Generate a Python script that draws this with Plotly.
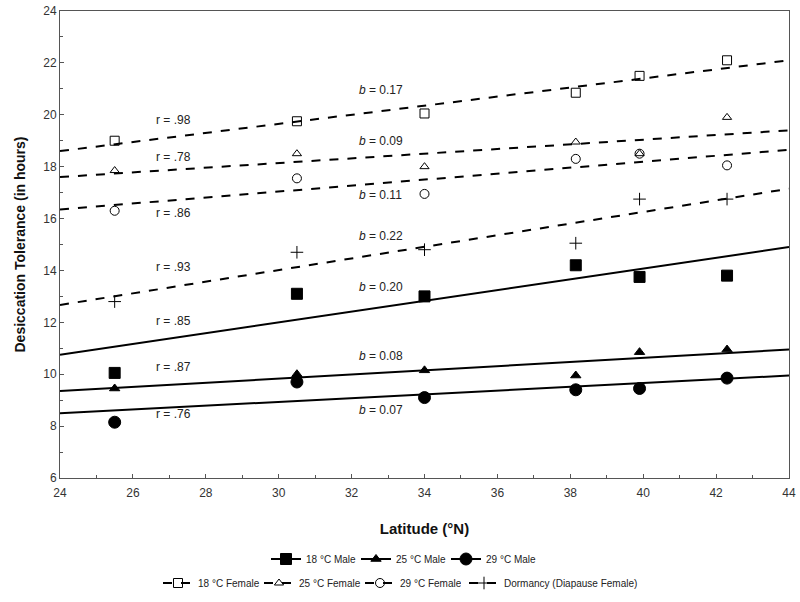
import plotly.graph_objects as go

# ---- data ----
latitude = [25.5, 30.5, 34.0, 38.15, 39.9, 42.3]

female_18 = [19.0, 19.75, 20.05, 20.85, 21.5, 22.1]
female_25 = [17.85, 18.5, 18.0, 18.95, 18.5, 19.9]
female_29 = [16.3, 17.55, 16.95, 18.3, 18.5, 18.05]
dormancy = [12.8, 14.7, 14.8, 15.05, 16.75, 16.75]
male_18 = [10.05, 13.1, 13.0, 14.2, 13.75, 13.8]
male_25 = [9.45, 10.0, 10.15, 9.95, 10.85, 10.95]
male_29 = [8.15, 9.7, 9.1, 9.4, 9.45, 9.85]

# regression lines: value at x = 24 and x = 44
line_x = [24, 44]
fit_female_18 = [18.6, 22.1]
fit_female_25 = [17.6, 19.4]
fit_female_29 = [16.35, 18.65]
fit_dormancy = [12.67, 17.15]
fit_male_18 = [10.75, 14.9]
fit_male_25 = [9.35, 10.95]
fit_male_29 = [8.5, 9.95]

r_labels = ["r = .98", "r = .78", "r = .86", "r = .93", "r = .85", "r = .87", "r = .76"]
r_y = [19.8, 18.37, 16.2, 14.13, 12.05, 10.28, 8.46]
b_labels = ["0.17", "0.09", "0.11", "0.22", "0.20", "0.08", "0.07"]
b_y = [20.95, 18.99, 16.9, 15.33, 13.36, 10.7, 8.62]
r_x = 27.1
b_x = 32.8

series = [
    ("18 °C Male", male_18, fit_male_18, "square", 11, "solid", "legend"),
    ("25 °C Male", male_25, fit_male_25, "triangle-up", 9, "solid", "legend"),
    ("29 °C Male", male_29, fit_male_29, "circle", 12, "solid", "legend"),
    ("18 °C Female", female_18, fit_female_18, "square-open", 9, "dash", "legend2"),
    ("25 °C Female", female_25, fit_female_25, "triangle-up-open", 8, "dash", "legend2"),
    ("29 °C Female", female_29, fit_female_29, "circle-open", 9, "dash", "legend2"),
    ("Dormancy (Diapause Female)", dormancy, fit_dormancy, "cross-thin-open", 9, "dash", "legend3"),
]

fig = go.Figure()
for name, ys, fit, sym, size, dash, leg in series:
    fig.add_trace(go.Scatter(
        x=line_x, y=fit, mode="lines", showlegend=False, hoverinfo="skip",
        line=dict(color="black", width=2, dash=dash)))
for name, ys, fit, sym, size, dash, leg in series:
    xs2, ys2 = [], []
    for xv, yv in zip(latitude, ys):
        xs2 += [xv, None]
        ys2 += [yv, None]
    fig.add_trace(go.Scatter(
        x=xs2, y=ys2, mode="lines+markers", name=name, legend=leg,
        connectgaps=False,
        line=dict(color="black", width=2, dash=dash),
        marker=dict(symbol=sym, size=size, color="black",
                    line=dict(color="black", width=1))))

for t, yv in zip(r_labels, r_y):
    fig.add_annotation(x=r_x, y=yv, text=t, showarrow=False,
                       font=dict(family="Arial", size=12, color="#222"))
for t, yv in zip(b_labels, b_y):
    fig.add_annotation(x=b_x, y=yv, text="<i>b</i> = " + t, showarrow=False,
                       font=dict(family="Arial", size=12, color="#222"))

W, H = 800, 602
legfont = dict(size=10, color="#222")
fig.update_layout(
    width=W, height=H,
    margin=dict(l=60, r=11, t=11, b=124, autoexpand=False),
    paper_bgcolor="white", plot_bgcolor="white",
    font=dict(family="Arial", color="#222"),
    xaxis=dict(range=[24, 44], dtick=2, tick0=24, ticks="inside", ticklen=4,
               tickcolor="#555", showgrid=False, zeroline=False, automargin=False,
               showline=True, linecolor="#555", linewidth=1, mirror=True,
               minor=dict(dtick=1, ticks="inside", ticklen=3, tickcolor="#555"),
               tickfont=dict(size=12, color="#333"), ticklabelstandoff=4,
               title=dict(text="<b>Latitude (°N)</b>", font=dict(size=15, color="#111"),
                          standoff=24)),
    yaxis=dict(range=[6, 24], dtick=2, tick0=6, ticks="inside", ticklen=4,
               tickcolor="#555", showgrid=False, zeroline=False, automargin=False,
               showline=True, linecolor="#555", linewidth=1, mirror=True,
               minor=dict(dtick=1, ticks="inside", ticklen=3, tickcolor="#555"),
               tickfont=dict(size=12, color="#333"),
               title=dict(text="<b>Desiccation Tolerance (in hours)</b>",
                          font=dict(size=14, color="#111"), standoff=14)),
    legend=dict(orientation="h", xref="container", yref="container",
                x=266 / W, xanchor="left", y=1 - 559 / H, yanchor="middle",
                entrywidth=45, itemwidth=30, font=legfont, bgcolor="rgba(0,0,0,0)"),
    legend2=dict(orientation="h", xref="container", yref="container",
                 x=158 / W, xanchor="left", y=1 - 583 / H, yanchor="middle",
                 entrywidth=56, itemwidth=30, font=legfont, bgcolor="rgba(0,0,0,0)"),
    legend3=dict(orientation="h", xref="container", yref="container",
                 x=464 / W, xanchor="left", y=1 - 583 / H, yanchor="middle",
                 itemwidth=30, font=legfont, bgcolor="rgba(0,0,0,0)"),
)

# remove the default 8px page margin so the 800x602 figure fills the window
fig.write_html("out.html", config={"displayModeBar": False},
               post_script="document.body.style.margin='0';")
